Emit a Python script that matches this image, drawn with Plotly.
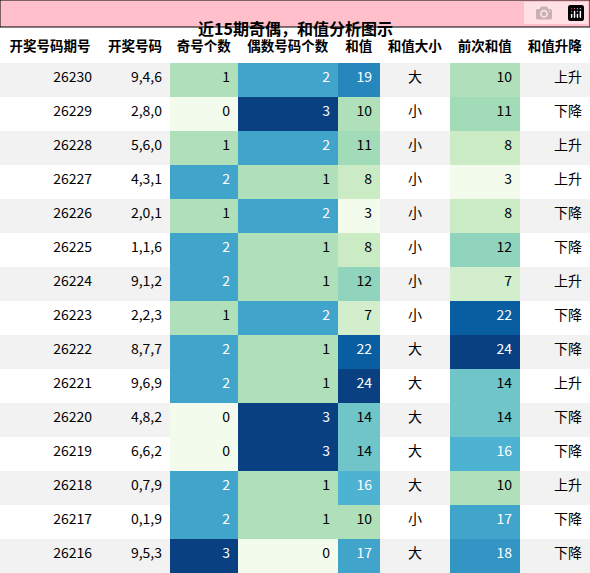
import plotly.graph_objects as go
from plotly.colors import sample_colorscale

title = "近15期奇偶，和值分析图示"
headers = ["开奖号码期号", "开奖号码", "奇号个数", "偶数号码个数", "和值", "和值大小", "前次和值", "和值升降"]
periods = ["26230","26229","26228","26227","26226","26225","26224","26223","26222","26221","26220","26219","26218","26217","26216"]
numbers = ["9,4,6","2,8,0","5,6,0","4,3,1","2,0,1","1,1,6","9,1,2","2,2,3","8,7,7","9,6,9","4,8,2","6,6,2","0,7,9","0,1,9","9,5,3"]
odd = [1,0,1,2,1,2,2,1,2,2,0,0,2,2,3]
even = [2,3,2,1,2,1,1,2,1,1,3,3,1,1,0]
sums = [19,10,11,8,3,8,12,7,22,24,14,14,16,10,17]
size = ["大","小","小","小","小","小","小","小","大","大","大","大","大","小","大"]
prev = [10,11,8,3,8,12,7,22,24,14,14,16,10,17,18]
trend = ["上升","下降","上升","上升","下降","下降","上升","下降","下降","上升","下降","下降","上升","下降","下降"]

def colors(vals, lo, hi):
    t = [(v - lo) / (hi - lo) for v in vals]
    fills = sample_colorscale("GnBu", [0.02 + 0.98 * x for x in t])
    fonts = ["white" if x > 0.6 else "black" for x in t]
    return fills, fonts

stripe = ["#f2f2f2" if i % 2 == 0 else "white" for i in range(len(periods))]
of, ofn = colors(odd, 0, 3)
ef, efn = colors(even, 0, 3)
lo, hi = min(sums + prev), max(sums + prev)
sf, sfn = colors(sums, lo, hi)
pf, pfn = colors(prev, lo, hi)
black = ["black"] * len(periods)

fig = go.Figure(go.Table(
    columnwidth=[100, 70, 68, 100, 42, 70, 70, 70],
    domain=dict(x=[0, 1], y=[0, 1 - 27 / 573]),
    header=dict(values=[f"<b>{h}</b>" for h in headers], fill_color="white",
                line=dict(width=0), align="center", height=34,
                font=dict(family="Noto Sans CJK SC", size=13.5, color="black")),
    cells=dict(values=[periods, numbers, odd, even, sums, size, prev, trend],
               fill_color=[stripe, stripe, of, ef, sf, stripe, pf, stripe],
               font=dict(family="Noto Sans CJK SC", size=14,
                         color=[black, black, ofn, efn, sfn, black, pfn, black]),
               align=["right", "right", "right", "right", "right", "center", "right", "right"],
               line=dict(width=0), height=34),
))
fig.add_shape(type="rect", xref="paper", yref="paper", x0=0, x1=1, y0=1 - 27 / 573, y1=1,
              fillcolor="#ffc0cb", line=dict(color="black", width=1))
fig.add_annotation(text="<b>" + title + "</b>", xref="paper", yref="paper",
                   x=0.5, y=1 - 13.5 / 573, showarrow=False,
                   font=dict(family="Noto Sans CJK SC", size=16, color="black"))
fig.update_layout(width=590, height=573, margin=dict(l=0, r=0, t=0, b=0),
                  paper_bgcolor="white")
fig.write_html("out.html")

with open("out.html", encoding="utf-8") as f:
    html = f.read()
html = html.replace("<body>", '<body style="margin:0;overflow:hidden">', 1)
with open("out.html", "w", encoding="utf-8") as f:
    f.write(html)
